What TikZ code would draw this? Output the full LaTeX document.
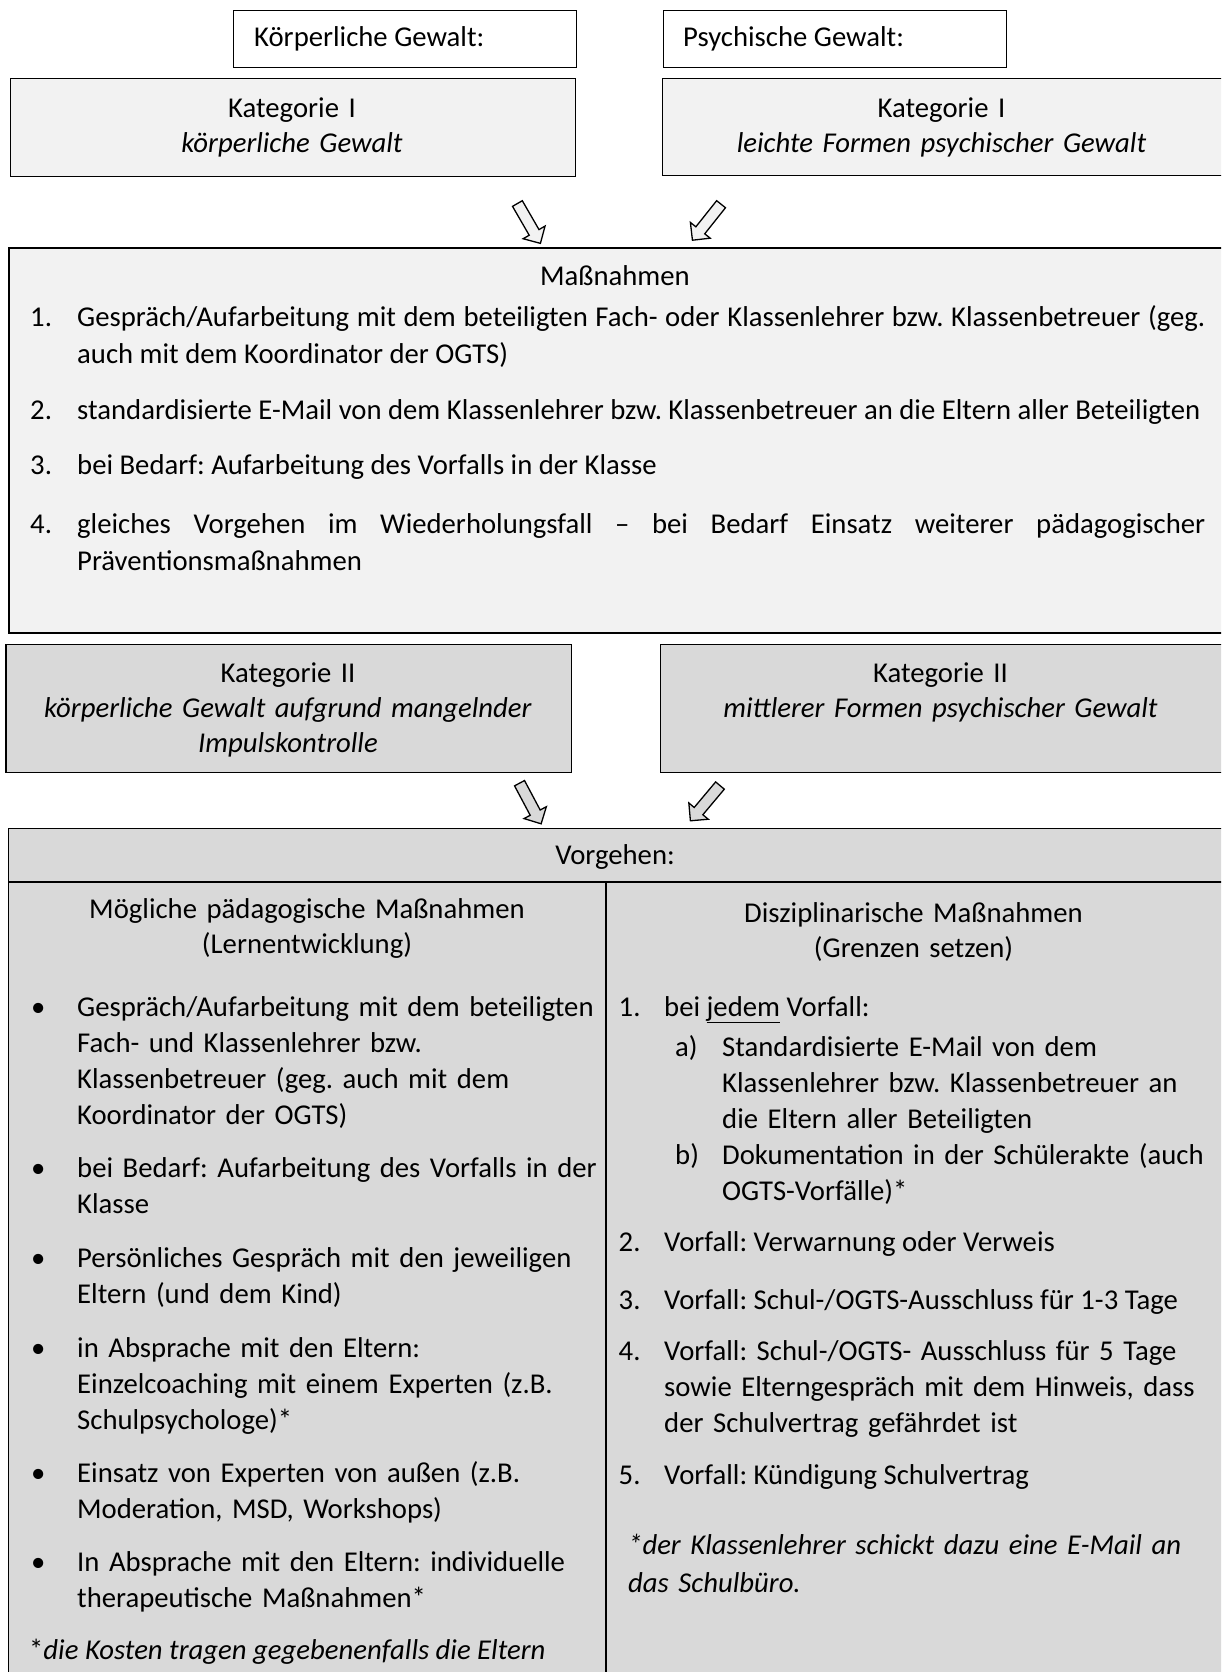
\documentclass[tikz,border=0pt]{standalone}
\usepackage{fontspec}
\setmainfont{Carlito}
\usetikzlibrary{shapes.arrows}
\definecolor{fillA}{HTML}{F2F2F2}
\definecolor{fillB}{HTML}{D9D9D9}
\frenchspacing
\tikzset{
  box/.style={draw=black, line width=1.4pt, anchor=north west, inner sep=0pt},
  bigbox/.style={box, line width=2pt},
  blockarrow/.style={single arrow, draw=black, line width=1.3pt, inner xsep=0pt, inner ysep=5pt,
    minimum height=46pt, single arrow head extend=7pt},
  txt/.style={inner sep=0pt, anchor=base west},
  ctxt/.style={inner sep=0pt, anchor=base, align=center, text width=#1},
  ctxt/.default=560pt,
  lpara/.style={inner sep=0pt, anchor=base west, align=left, text width=#1},
  lpara/.default=600pt,
  jpara/.style={inner sep=0pt, anchor=base west, align=justify, text width=1128pt},
}
\begin{document}
\begin{tikzpicture}[x=1pt,y=-1pt]
\useasboundingbox (0,0) rectangle (1221,1672);
\clip (0,0) rectangle (1221,1672);

% ---------- boxes ----------
\node[box, fill=white, minimum width=343.5pt, minimum height=57.4pt] (kg) at (232.5,9.6) {};
\node[box, fill=white, minimum width=343pt, minimum height=57.4pt] (pg) at (663,9.6) {};
\node[box, fill=fillA, minimum width=565.4pt, minimum height=98pt] (k1l) at (9.6,78) {};
\node[box, fill=fillA, minimum width=570pt, minimum height=97pt] (k1r) at (662,78) {};
\node[bigbox, fill=fillA, minimum width=1225pt, minimum height=385pt] (mass) at (8,247) {};
\node[box, fill=fillB, minimum width=565.2pt, minimum height=128pt] (k2l) at (5.3,644) {};
\node[box, fill=fillB, minimum width=572pt, minimum height=128pt] (k2r) at (660,644) {};
\node[box, fill=fillB, minimum width=1225pt, minimum height=860pt] (vorg) at (8,827.5) {};
\coordinate (hl) at (8,882);
\coordinate (hr) at (1233,882);
\coordinate (dt) at (606,882);
\coordinate (db) at (606,1690);
\draw[line width=1.4pt] (hl) -- (hr);
\draw[line width=1.4pt] (dt) -- (db);

% ---------- block arrows ----------
\node[blockarrow, fill=fillA, rotate=-60] (a1) at (527.5,221) {};
\node[blockarrow, fill=fillA, rotate=-128.5] (a2) at (708.5,220) {};
\node[blockarrow, fill=fillB, rotate=-62] (a3) at (529,801) {};
\node[blockarrow, fill=fillB, rotate=-130] (a4) at (707,801) {};

\begin{scope}[every node/.append style={font=\fontsize{28.7}{36}\selectfont}]
% ---------- top labels ----------
\node[txt] (tkg) at (254,47) {Körperliche Gewalt:};
\node[txt] (tpg) at (683,47) {Psychische Gewalt:};
\node[ctxt, font=\fontsize{28.7}{35}\selectfont] (tk1l) at (292,118) {Kategorie I\\\textit{körperliche Gewalt}};
\node[ctxt, font=\fontsize{28.7}{35}\selectfont] (tk1r) at (941.5,118) {Kategorie I\\\textit{leichte Formen psychischer Gewalt}};

% ---------- Massnahmen ----------
\node[txt, anchor=base] (tmass) at (615,285) {Maßnahmen};
\begin{scope}[every node/.append style={font=\fontsize{28.7}{37.6}\selectfont}]
\node[txt] (n1) at (30,326) {1.};
\node[jpara] (m1) at (77,326) {Gespräch/Aufarbeitung mit dem beteiligten Fach- oder Klassenlehrer bzw. Klassenbetreuer (geg.\linebreak auch mit dem Koordinator der OGTS)};
\node[txt] (n2) at (30,419) {2.};
\node[txt] (m2) at (77,419) {standardisierte E-Mail von dem Klassenlehrer bzw. Klassenbetreuer an die Eltern aller Beteiligten};
\node[txt] (n3) at (30,474) {3.};
\node[txt] (m3) at (77,474) {bei Bedarf: Aufarbeitung des Vorfalls in der Klasse};
\node[txt] (n4) at (30,533) {4.};
\node[jpara] (m4) at (77,533) {gleiches Vorgehen im Wiederholungsfall – bei Bedarf Einsatz weiterer pädagogischer\linebreak Präventionsmaßnahmen};
\end{scope}

% ---------- Kategorie II ----------
\node[ctxt, font=\fontsize{28.7}{35}\selectfont] (tk2l) at (288,682) {Kategorie II\\\textit{körperliche Gewalt aufgrund mangelnder}\\\textit{Impulskontrolle}};
\node[ctxt, font=\fontsize{28.7}{35}\selectfont] (tk2r) at (940.5,682) {Kategorie II\\\textit{mittlerer Formen psychischer Gewalt}};

% ---------- Vorgehen ----------
\node[txt, anchor=base] (tvorg) at (615,864) {Vorgehen:};
\node[ctxt=580pt, font=\fontsize{28.7}{35}\selectfont] (lt) at (307,918) {Mögliche pädagogische Maßnahmen\\(Lernentwicklung)};
\node[ctxt=580pt, font=\fontsize{28.7}{35}\selectfont] (rt) at (913.5,922) {Disziplinarische Maßnahmen\\(Grenzen setzen)};

% left column bullets
\node[txt] (bu1) at (31,1016) {•};
\node[lpara] (b1) at (77,1016) {Gespräch/Aufarbeitung mit dem beteiligten\\Fach- und Klassenlehrer bzw.\\Klassenbetreuer (geg. auch mit dem\\Koordinator der OGTS)};
\node[txt] (bu2) at (31,1177) {•};
\node[lpara] (b2) at (77,1177) {bei Bedarf: Aufarbeitung des Vorfalls in der\\Klasse};
\node[txt] (bu3) at (31,1267) {•};
\node[lpara] (b3) at (77,1267) {Persönliches Gespräch mit den jeweiligen\\Eltern (und dem Kind)};
\node[txt] (bu4) at (31,1357) {•};
\node[lpara] (b4) at (77,1357) {in Absprache mit den Eltern:\\Einzelcoaching mit einem Experten (z.B.\\Schulpsychologe)*};
\node[txt] (bu5) at (31,1482) {•};
\node[lpara] (b5) at (77,1482) {Einsatz von Experten von außen (z.B.\\Moderation, MSD, Workshops)};
\node[txt] (bu6) at (31,1571) {•};
\node[lpara] (b6) at (77,1571) {In Absprache mit den Eltern: individuelle\\therapeutische Maßnahmen*};
\node[txt] (fn1) at (29,1659) {*\textit{die Kosten tragen gegebenenfalls die Eltern}};

% right column
\node[txt] (rn1) at (618.5,1016) {1.};
\node[txt] (r1) at (664,1016) {bei \underline{jedem} Vorfall:};
\node[txt] (rna) at (675,1056) {a)};
\node[lpara=520pt] (ra) at (722,1056) {Standardisierte E-Mail von dem\\Klassenlehrer bzw. Klassenbetreuer an\\die Eltern aller Beteiligten};
\node[txt] (rnb) at (675,1164) {b)};
\node[lpara=520pt] (rb) at (722,1164) {Dokumentation in der Schülerakte (auch\\OGTS-Vorfälle)*};
\node[txt] (rn2) at (618.5,1251) {2.};
\node[txt] (r2) at (664,1251) {Vorfall: Verwarnung oder Verweis};
\node[txt] (rn3) at (618.5,1309) {3.};
\node[txt] (r3) at (664,1309) {Vorfall: Schul-/OGTS-Ausschluss für 1-3 Tage};
\node[txt] (rn4) at (618.5,1360) {4.};
\node[lpara=580pt] (r4) at (664,1360) {Vorfall: Schul-/OGTS- Ausschluss für 5 Tage\\sowie Elterngespräch mit dem Hinweis, dass\\der Schulvertrag gefährdet ist};
\node[txt] (rn5) at (618.5,1484) {5.};
\node[txt] (r5) at (664,1484) {Vorfall: Kündigung Schulvertrag};
\node[lpara=590pt, font=\fontsize{28.7}{38}\selectfont] (fn2) at (628,1554) {\textit{*der Klassenlehrer schickt dazu eine E-Mail an}\\\textit{das Schulbüro.}};
\end{scope}
\end{tikzpicture}
\end{document}
